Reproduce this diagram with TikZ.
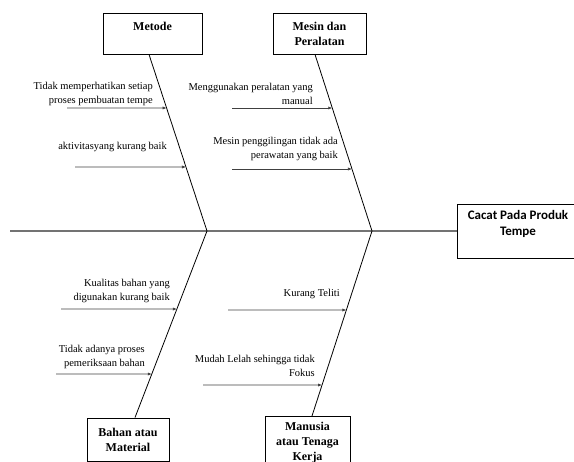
\documentclass[tikz,border=0pt]{standalone}
\usepackage{fontspec}
\setmainfont{Liberation Serif}
\newfontfamily\effectfont{Carlito}
\usetikzlibrary{arrows.meta, calc}
\tikzset{
  category/.style={rectangle, draw, line width=0.9pt, align=center, inner sep=0pt, font=\fontsize{12}{15}\selectfont\bfseries},
  effect/.style={rectangle, draw, line width=0.9pt, align=center, inner sep=0pt, minimum width=122pt, minimum height=54pt, font=\effectfont\fontsize{13}{16}\selectfont\bfseries},
  cause/.style={align=right, inner sep=0pt, font=\fontsize{10.5}{14}\selectfont},
  spine/.style={line width=1.6pt, draw=black!55},
  bone/.style={line width=0.8pt},
  causearrow/.style={-{Latex[length=4pt, width=3.2pt]}, line width=0.7pt, draw=black!75},
}

\begin{document}
\begin{tikzpicture}[x=1pt, y=-1pt]
  \useasboundingbox (0,0) rectangle (574,462);

  % Head of the fish and the spine
  \node[effect] (effect) at (518,231) {Cacat Pada Produk\\Tempe\\\mbox{}};
  \coordinate (tail) at (10,231);
  \coordinate (j1) at (207,231);
  \coordinate (j2) at (372,231);
  \draw[spine] (tail) -- (effect.west);

  % Category boxes
  \node[category, minimum width=99pt, minimum height=41pt] (metode) at (152.5,33.5) {Metode\\\mbox{}};
  \node[category, minimum width=93pt, minimum height=41pt] (mesin) at (319.5,33.5) {Mesin dan\\Peralatan};
  \node[category, minimum width=82pt, minimum height=43pt] (bahan) at (128,439.5) {Bahan atau\\Material};
  \node[category, minimum width=85pt, anchor=north, inner ysep=6pt] (manusia) at (307.5,416) {Manusia\\atau Tenaga\\Kerja};

  % Bones
  \coordinate (mt) at ($(metode.south)+(-3.5,0)$);
  \coordinate (ms) at ($(mesin.south)+(-4.5,0)$);
  \coordinate (bh) at ($(bahan.north)+(7,0)$);
  \coordinate (mn) at ($(manusia.north)+(4.5,0)$);
  \draw[bone] (mt) -- (j1) -- (bh);
  \draw[bone] (ms) -- (j2) -- (mn);

  % Causes: Metode
  \coordinate (a1) at (67,108);
  \coordinate (c1) at (intersection of mt--j1 and a1--{(300,108)});
  \draw[causearrow] (a1) -- (c1);
  \node[cause, anchor=east] (t1) at (153,93.5) {Tidak memperhatikan setiap\\proses pembuatan tempe};
  \coordinate (a2) at (75,167);
  \coordinate (c2) at (intersection of mt--j1 and a2--{(300,167)});
  \draw[causearrow] (a2) -- (c2);
  \node[cause, anchor=east] (t2) at (167,147) {aktivitasyang kurang baik};

  % Causes: Mesin dan Peralatan
  \coordinate (a3) at (232,108);
  \coordinate (c3) at (intersection of ms--j2 and a3--{(500,108)});
  \draw[causearrow] (a3) -- (c3);
  \node[cause, anchor=east] (t3) at (313,93.5) {Menggunakan peralatan yang\\manual};
  \coordinate (a4) at (232,169);
  \coordinate (c4) at (intersection of ms--j2 and a4--{(500,169)});
  \draw[causearrow] (a4) -- (c4);
  \node[cause, anchor=east] (t4) at (338,149) {Mesin penggilingan tidak ada\\perawatan yang baik};

  % Causes: Bahan atau Material
  \coordinate (a5) at (61,309);
  \coordinate (c5) at (intersection of j1--bh and a5--{(300,309)});
  \draw[causearrow] (a5) -- (c5);
  \node[cause, anchor=east] (t5) at (170,291) {Kualitas bahan yang\\digunakan kurang baik};
  \coordinate (a6) at (56,374);
  \coordinate (c6) at (intersection of j1--bh and a6--{(300,374)});
  \draw[causearrow] (a6) -- (c6);
  \node[cause, anchor=east] (t6) at (145,356.5) {Tidak adanya proses\\pemeriksaan bahan};

  % Causes: Manusia atau Tenaga Kerja
  \coordinate (a7) at (228,310);
  \coordinate (c7) at (intersection of j2--mn and a7--{(500,310)});
  \draw[causearrow] (a7) -- (c7);
  \node[cause, anchor=east] (t7) at (340,294) {Kurang Teliti};
  \coordinate (a8) at (203,385);
  \coordinate (c8) at (intersection of j2--mn and a8--{(500,385)});
  \draw[causearrow] (a8) -- (c8);
  \node[cause, anchor=east] (t8) at (315,366) {Mudah Lelah sehingga tidak\\Fokus};
\end{tikzpicture}
\end{document}
